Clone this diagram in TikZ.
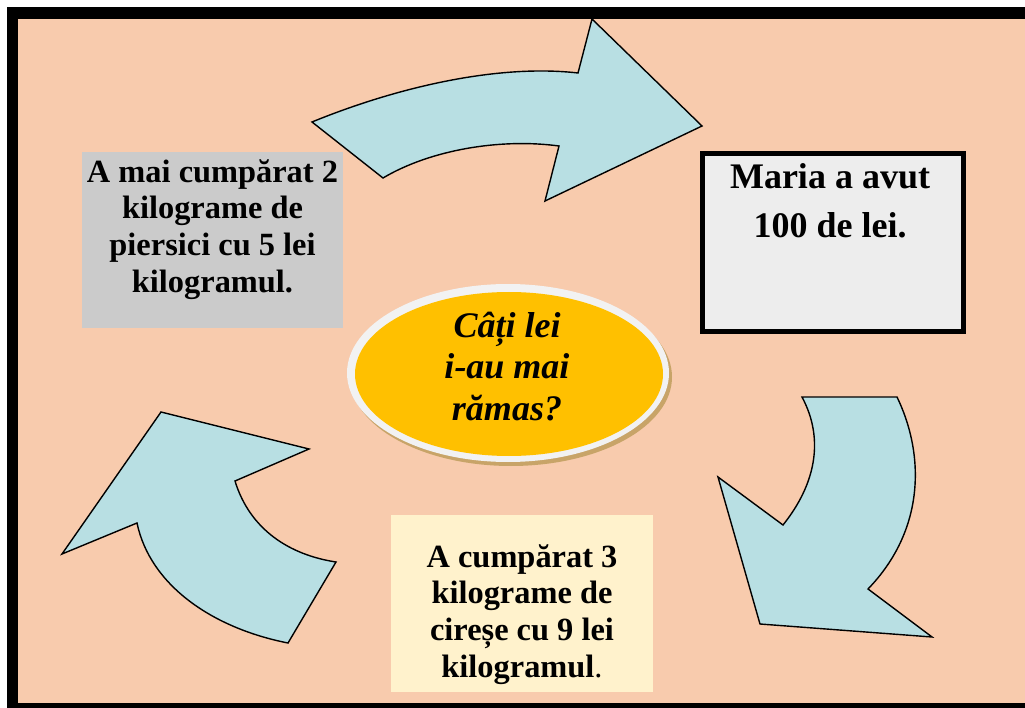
\documentclass[tikz,border=0pt]{standalone}
\usepackage{fontspec}
\setmainfont{Liberation Serif}
\usetikzlibrary{shapes.geometric}
\definecolor{peach}{HTML}{F8CBAD}
\definecolor{arrowc}{HTML}{B8DFE3}
\definecolor{graybox}{HTML}{CBCBCB}
\definecolor{mariafill}{HTML}{EDEDED}
\definecolor{yelbox}{HTML}{FFF2CC}
\definecolor{ellyel}{HTML}{FFC000}
\definecolor{ellring}{HTML}{F2F2F2}
\definecolor{ellshadow}{HTML}{C8A468}
\begin{document}
\begin{tikzpicture}[x=1pt,y=-1pt,
  bigarrow/.style={fill=arrowc, draw=black, line width=1.4pt, line join=miter},
  boxtxt/.style={inner sep=0pt, align=center, anchor=north, font=\fontsize{32.4}{36.7}\selectfont\bfseries},
  mariatxt/.style={inner sep=0pt, align=center, anchor=north, font=\fontsize{36}{49}\selectfont\bfseries},
  elltxt/.style={inner sep=0pt, align=center, anchor=north, font=\fontsize{36}{41.7}\selectfont\bfseries\itshape},
  plainbox/.style={inner sep=0pt, anchor=north west, draw=none}]
\useasboundingbox (0,0) rectangle (1025,708);
% frame
\fill[black] (7,7) rectangle (1040,720);
\fill[peach] (18,19) rectangle (1040,703);
% arrows
\draw[bigarrow] (312,122) .. controls (400,86) and (500,64) .. (578,73) -- (592,19) -- (702,126) -- (545,201) -- (559,146) .. controls (500,138) and (430,150) .. (383,178) -- cycle;
\draw[bigarrow] (802,397) -- (897,397) .. controls (925,455) and (925,530) .. (868,589) -- (932,637) -- (760,624) -- (718,477) -- (783,525) .. controls (815,485) and (825,440) .. (802,397) -- cycle;
\draw[bigarrow] (161,412) -- (309,449) -- (235,481) .. controls (250,530) and (290,555) .. (336,562) -- (288,643) .. controls (212,628) and (150,585) .. (137,523) -- (62,554) -- cycle;
% boxes
\node[plainbox, fill=graybox, minimum width=261pt, minimum height=176pt] (leftbox) at (82,152) {};
\node[plainbox, fill=yelbox, minimum width=262pt, minimum height=177pt] (bottombox) at (391,515) {};
\node[plainbox, fill=mariafill, draw=black, line width=5pt, minimum width=261pt, minimum height=178pt] (mariabox) at (699.5,151.5) {};
% ellipse
\fill[ellshadow] (511,377) ellipse [x radius=161, y radius=89];
\fill[ellring] (508,373) ellipse [x radius=161, y radius=89];
\node[ellipse, fill=ellyel, minimum width=308pt, minimum height=164pt, inner sep=0pt] (question) at (509,374) {};
% texts
\node[boxtxt] (lefttxt) at (212.5,156) {\rule{0pt}{26pt}A mai cumpărat 2\\kilograme de\\piersici cu 5 lei\\kilogramul.};
\node[boxtxt] (bottomtxt) at (522,541) {\rule{0pt}{26pt}A cumpărat 3\\kilograme de\\cireșe cu 9 lei\\kilogramul{\mdseries .}};
\node[mariatxt] (mariatxt) at (830,159.2) {\rule{0pt}{28.8pt}Maria a avut\\100 de lei.};
\node[elltxt] (qtxt) at (507,308.2) {\rule{0pt}{28.8pt}Câți lei\\i-au mai\\rămas?};
\end{tikzpicture}
\end{document}
